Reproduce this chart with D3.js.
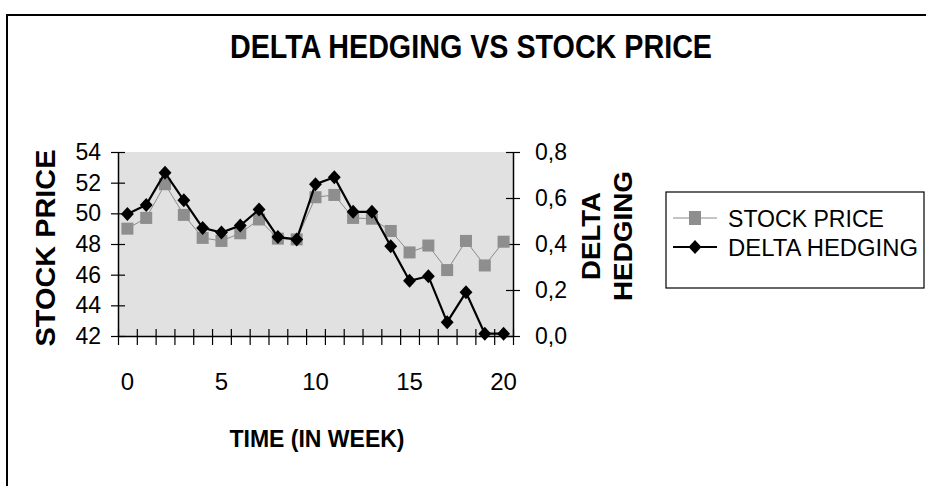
<!DOCTYPE html>
<html>
<head>
<meta charset="utf-8">
<script src="https://cdn.jsdelivr.net/npm/d3@7"></script>
<style>
    body{margin:0;background:#fff;}
    #chart{width:926px;height:486px;}
    text{font-family:"Liberation Sans",Arial,sans-serif;fill:#000;}
</style>
</head>
<body>
<div id="chart"></div>
<script>
// weeks 0..20
let weeks=d3.range(0,21);
let stockPrice=[49.0,49.7,51.9,49.9,48.4,48.2,48.7,49.6,48.35,48.3,51.05,51.2,49.7,49.65,48.85,47.45,47.9,46.3,48.2,46.6,48.15];
let deltaHedging=[0.53,0.57,0.71,0.59,0.47,0.45,0.48,0.55,0.43,0.42,0.66,0.69,0.54,0.54,0.39,0.24,0.26,0.06,0.19,0.01,0.01];
let leftTicks=[42,44,46,48,50,52,54];
let rightTicks=[0,0.2,0.4,0.6,0.8];
let xLabels=[0,5,10,15,20];
let seriesNames=["STOCK PRICE","DELTA HEDGING"];

(function(){
    let svg=d3.select("#chart").append("svg")
        .attr("width",926).attr("height",486);
    let plot={left:118,right:513,top:152,bottom:336};

    //outer frame (only top and left show in the scan)
    svg.append("path")
        .attr("d","M7,486V15H926")
        .attr("fill","none").attr("stroke","#000").attr("stroke-width",2);

    svg.append("text")
        .attr("x",471).attr("y",58)
        .attr("text-anchor","middle")
        .attr("font-size",34).attr("font-weight","bold")
        .attr("textLength",482).attr("lengthAdjust","spacingAndGlyphs")
        .text("DELTA HEDGING VS STOCK PRICE");

    let x=d3.scaleLinear().domain([-0.5,20.5]).range([plot.left,plot.right]);
    let yl=d3.scaleLinear().domain([42,54]).range([plot.bottom,plot.top]);
    let yr=d3.scaleLinear().domain([0,0.8]).range([plot.bottom,plot.top]);

    svg.append("rect")
        .attr("x",plot.left).attr("y",plot.top)
        .attr("width",plot.right-plot.left).attr("height",plot.bottom-plot.top)
        .attr("fill","#e1e1e1");

    //left axis
    let gl=svg.append("g").attr("transform","translate("+plot.left+",0)");
    gl.call(d3.axisLeft(yl).tickValues(leftTicks).tickSize(0).tickPadding(17).tickFormat(d3.format("d")));
    gl.select(".domain").attr("stroke","#000").attr("stroke-width",1.5);
    gl.selectAll(".tick text").attr("font-size",23).attr("font-family","Liberation Sans, Arial, sans-serif");
    gl.selectAll(".tick").append("line").attr("x1",-7).attr("x2",7).attr("stroke","#000").attr("stroke-width",1.2);

    //right axis
    let gr=svg.append("g").attr("transform","translate("+plot.right+",0)");
    gr.call(d3.axisRight(yr).tickValues(rightTicks).tickSize(0).tickPadding(22)
        .tickFormat(function(d){return d3.format(".1f")(d).replace(".",",")}));
    gr.select(".domain").attr("stroke","#000").attr("stroke-width",1.5);
    gr.selectAll(".tick text").attr("font-size",23).attr("font-family","Liberation Sans, Arial, sans-serif");
    gr.selectAll(".tick").append("line").attr("x1",-7).attr("x2",7).attr("stroke","#000").attr("stroke-width",1.2);

    //x axis, ticks between categories
    let gx=svg.append("g").attr("transform","translate(0,"+plot.bottom+")");
    gx.call(d3.axisBottom(x).tickValues(d3.range(-0.5,21,1)).tickSize(0).tickFormat(""));
    gx.select(".domain").attr("stroke","#000").attr("stroke-width",1.5);
    gx.selectAll(".tick").append("line").attr("y1",-7).attr("y2",9).attr("stroke","#000").attr("stroke-width",1.2);
    svg.append("g").selectAll("text").data(xLabels).enter().append("text")
        .attr("x",function(d){return x(d)}).attr("y",plot.bottom+54)
        .attr("text-anchor","middle").attr("font-size",24)
        .text(function(d){return d});

    //axis titles
    svg.append("text")
        .attr("transform","translate(45,248) rotate(-90)")
        .attr("y",10).attr("text-anchor","middle")
        .attr("font-size",28).attr("font-weight","bold")
        .attr("textLength",197).attr("lengthAdjust","spacingAndGlyphs")
        .text("STOCK PRICE");
    svg.append("text")
        .attr("transform","translate(591,236) rotate(-90)")
        .attr("y",9).attr("text-anchor","middle")
        .attr("font-size",25).attr("font-weight","bold")
        .attr("textLength",88).attr("lengthAdjust","spacingAndGlyphs")
        .text("DELTA");
    svg.append("text")
        .attr("transform","translate(623,236) rotate(-90)")
        .attr("y",9).attr("text-anchor","middle")
        .attr("font-size",25).attr("font-weight","bold")
        .attr("textLength",130).attr("lengthAdjust","spacingAndGlyphs")
        .text("HEDGING");
    svg.append("text")
        .attr("x",317).attr("y",447).attr("text-anchor","middle")
        .attr("font-size",23).attr("font-weight","bold")
        .attr("textLength",175).attr("lengthAdjust","spacingAndGlyphs")
        .text("TIME (IN WEEK)");

    function diamond(s){
        return "M0,"+(-s)+"L"+(s*0.92)+",0L0,"+s+"L"+(-s*0.92)+",0Z";
    }

    //stock price series
    svg.append("path").datum(weeks)
        .attr("fill","none").attr("stroke","#8a8a8a").attr("stroke-width",1)
        .attr("d",d3.line().x(function(d){return x(d)}).y(function(d){return yl(stockPrice[d])}));
    svg.append("g").selectAll("rect").data(weeks).enter().append("rect")
        .attr("x",function(d){return x(d)-6}).attr("y",function(d){return yl(stockPrice[d])-6})
        .attr("width",12).attr("height",12).attr("fill","#8e8e8e");

    //delta hedging series
    svg.append("path").datum(weeks)
        .attr("fill","none").attr("stroke","#000").attr("stroke-width",2.2)
        .attr("d",d3.line().x(function(d){return x(d)}).y(function(d){return yr(deltaHedging[d])}));
    svg.append("g").selectAll("path").data(weeks).enter().append("path")
        .attr("transform",function(d){return "translate("+x(d)+","+yr(deltaHedging[d])+")"})
        .attr("d",diamond(7)).attr("fill","#000");

    //legend
    let lg=svg.append("g");
    lg.append("rect").attr("x",666).attr("y",192).attr("width",258).attr("height",96)
        .attr("fill","#fff").attr("stroke","#000").attr("stroke-width",1.2);
    let rows=[218,247];
    lg.append("line").attr("x1",673).attr("x2",717).attr("y1",rows[0]).attr("y2",rows[0])
        .attr("stroke","#8a8a8a").attr("stroke-width",1);
    lg.append("rect").attr("x",689).attr("y",rows[0]-7).attr("width",12).attr("height",14).attr("fill","#8e8e8e");
    lg.append("line").attr("x1",673).attr("x2",717).attr("y1",rows[1]).attr("y2",rows[1])
        .attr("stroke","#000").attr("stroke-width",2);
    lg.append("path").attr("transform","translate(695,"+rows[1]+")").attr("d",diamond(7)).attr("fill","#000");
    lg.selectAll("text").data(seriesNames).enter().append("text")
        .attr("x",728).attr("y",function(d,i){return rows[i]+8.5})
        .attr("font-size",23)
        .attr("textLength",function(d,i){return i===0?156:190}).attr("lengthAdjust","spacingAndGlyphs")
        .text(function(d){return d});
})();
</script>
</body>
</html>
